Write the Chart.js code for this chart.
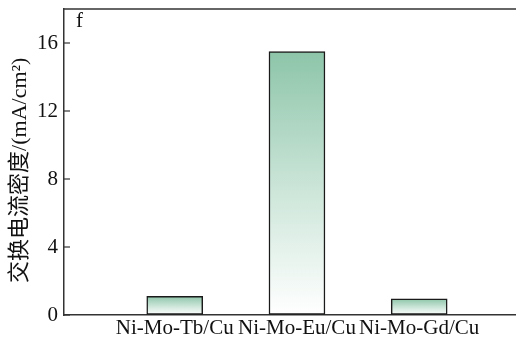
<!DOCTYPE html>
<html>
<head>
<meta charset="utf-8">
<script src="https://cdn.jsdelivr.net/npm/chart.js@4.4.1/dist/chart.umd.min.js"></script>
<style>
  html, body { margin: 0; padding: 0; background: #ffffff; overflow: hidden; }
  canvas { display: block; }
</style>
</head>
<body>
<canvas id="c" width="516" height="338"></canvas>
<script>
// ---- data ----
const categories = ['Ni-Mo-Tb/Cu', 'Ni-Mo-Eu/Cu', 'Ni-Mo-Gd/Cu'];
const exchangeCurrent = [1.1, 15.5, 0.95];
const yTicks = [0, 4, 8, 12, 16];
const yTitle = '交换电流密度/(mA/cm²)   ';
const panelLabel = 'f';

const serif = "'Liberation Serif', 'Times New Roman', 'Noto Sans CJK SC', serif";

const points = categories.map((c, i) => ({ x: i + 1, y: exchangeCurrent[i] }));

function barGradient(ctx) {
  const chart = ctx.chart;
  const area = chart.chartArea;
  if (!area || ctx.type !== 'data' || !ctx.raw) return '#8dc5a9';
  const ys = chart.scales.y;
  const top = ys.getPixelForValue(ctx.raw.y);
  const base = ys.getPixelForValue(0);
  const g = chart.ctx.createLinearGradient(0, top, 0, base);
  g.addColorStop(0, '#8dc5a9');
  g.addColorStop(0.55, '#cfe7db');
  g.addColorStop(1, '#ffffff');
  return g;
}

const framePlugin = {
  id: 'frame',
  afterDraw(chart) {
    const { ctx, chartArea, scales } = chart;
    ctx.save();
    // top frame line
    ctx.strokeStyle = '#333333';
    ctx.lineWidth = 1.5;
    ctx.beginPath();
    ctx.moveTo(chartArea.left - 0.75, chartArea.top);
    ctx.lineTo(chart.width, chartArea.top);
    ctx.stroke();
    // inward y ticks
    ctx.lineWidth = 1.2;
    scales.y.ticks.forEach(t => {
      const py = scales.y.getPixelForValue(t.value);
      ctx.beginPath();
      ctx.moveTo(chartArea.left, py);
      ctx.lineTo(chartArea.left + 6, py);
      ctx.stroke();
    });
    // panel label
    ctx.fillStyle = '#111111';
    ctx.font = "21px " + serif;
    ctx.textBaseline = 'alphabetic';
    ctx.textAlign = 'left';
    ctx.fillText(panelLabel, chartArea.left + 12, chartArea.top + 18);
    ctx.restore();
  }
};

new Chart(document.getElementById('c'), {
  type: 'bar',
  data: {
    datasets: [{
      data: points,
      backgroundColor: barGradient,
      borderColor: '#1a1a1a',
      borderWidth: 1.5,
      borderSkipped: false,
      barThickness: 56
    }]
  },
  options: {
    responsive: false,
    animation: false,
    devicePixelRatio: 1,
    layout: { padding: { top: 9, right: 0, left: 9, bottom: -4 } },
    plugins: {
      legend: { display: false },
      tooltip: { enabled: false }
    },
    scales: {
      x: {
        type: 'linear',
        offset: false,
        min: 0.094,
        max: 3.792,
        afterBuildTicks(scale) {
          scale.ticks = categories.map((c, i) => ({ value: i + 1 }));
        },
        ticks: {
          autoSkip: false,
          maxRotation: 0,
          padding: 3,
          color: '#111111',
          font: { family: serif, size: 21, lineHeight: 1 },
          callback: (v) => categories[Math.round(v) - 1] || ''
        },
        grid: { drawOnChartArea: false, drawTicks: false },
        border: { display: true, color: '#333333', width: 1.5 }
      },
      y: {
        min: 0,
        max: 18,
        afterBuildTicks(scale) {
          scale.ticks = yTicks.map(v => ({ value: v }));
        },
        ticks: {
          padding: 6,
          color: '#111111',
          font: { family: serif, size: 21, lineHeight: 0.05 }
        },
        grid: { drawOnChartArea: false, drawTicks: false },
        border: { display: true, color: '#333333', width: 1.5 },
        title: {
          display: true,
          text: yTitle,
          color: '#111111',
          font: { family: serif, size: 22, lineHeight: 1 },
          padding: { top: 0, bottom: 0 }
        }
      }
    }
  },
  plugins: [framePlugin]
});
</script>
</body>
</html>
